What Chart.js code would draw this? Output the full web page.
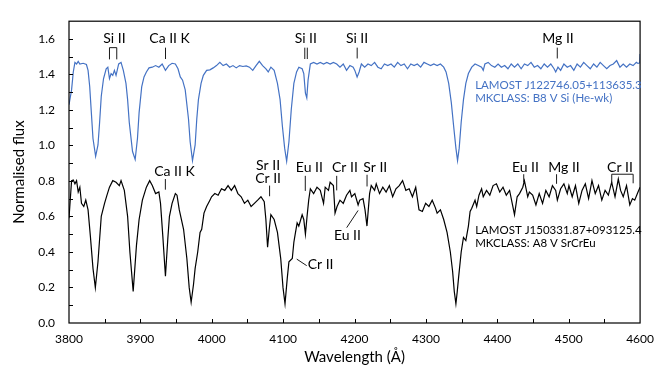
<!DOCTYPE html>
<html>
<head>
<meta charset="utf-8">
<script src="https://cdn.jsdelivr.net/npm/chart.js@4.4.1/dist/chart.umd.min.js"></script>
<style>
  html, body { margin: 0; padding: 0; background: #fff; }
  canvas { display: block; }
</style>
</head>
<body>
<canvas id="spectra" width="663" height="371"></canvas>
<script>
// Wavelength grid (Å) and normalised flux of the B8 V Si (He-wk) star
const blueWave = [3800, 3803.6, 3806.0, 3808.3, 3810.6, 3812.9, 3815.2, 3819.8, 3824.4, 3826.7, 3829.0, 3831.3, 3833.6, 3837.3, 3840.6, 3842.9, 3845.2, 3848.4, 3852.1, 3854.4, 3856.7, 3859.0, 3861.3, 3863.6, 3865.9, 3869.6, 3872.9, 3876.1, 3879.8, 3882.1, 3884.4, 3889.0, 3892.7, 3895.9, 3898.2, 3901.9, 3905.1, 3908.4, 3912.1, 3916.7, 3921.3, 3925.9, 3930.5, 3935.1, 3939.7, 3944.4, 3949.0, 3952.7, 3955.9, 3959.1, 3962.8, 3967.4, 3969.7, 3973.0, 3976.7, 3979.0, 3981.3, 3985.0, 3988.2, 3992.8, 3997.4, 4002.0, 4006.6, 4011.3, 4015.9, 4020.5, 4025.1, 4029.7, 4034.3, 4038.9, 4043.6, 4048.2, 4052.8, 4057.4, 4062.0, 4066.6, 4071.2, 4075.9, 4079.1, 4082.8, 4087.4, 4092.0, 4095.7, 4098.9, 4102.1, 4104.9, 4108.1, 4111.4, 4115.0, 4118.8, 4122.0, 4126.6, 4128.9, 4131.2, 4133.1, 4134.9, 4138.1, 4142.7, 4147.4, 4152.0, 4156.6, 4161.2, 4165.8, 4170.4, 4175.0, 4179.6, 4184.2, 4188.8, 4193.5, 4198.1, 4200.4, 4203.6, 4206.4, 4209.6, 4214.2, 4218.8, 4223.4, 4228.1, 4232.7, 4237.3, 4241.9, 4246.5, 4251.1, 4255.7, 4260.4, 4265.0, 4269.6, 4274.2, 4278.8, 4283.4, 4288.0, 4292.6, 4297.3, 4301.9, 4306.5, 4311.1, 4315.7, 4320.3, 4324.9, 4328.2, 4331.9, 4335.6, 4338.8, 4342.0, 4344.3, 4346.6, 4349.4, 4352.6, 4355.9, 4359.5, 4364.2, 4368.8, 4373.4, 4378.0, 4380.3, 4382.6, 4387.2, 4391.8, 4396.5, 4401.1, 4405.7, 4410.3, 4414.9, 4419.5, 4424.1, 4428.7, 4433.4, 4438.0, 4442.6, 4447.2, 4451.8, 4456.4, 4461.0, 4465.7, 4470.3, 4474.9, 4479.5, 4481.8, 4485.0, 4488.7, 4493.3, 4498.0, 4502.6, 4507.2, 4511.8, 4516.4, 4521.0, 4525.6, 4530.2, 4534.9, 4539.5, 4544.1, 4548.7, 4553.3, 4557.9, 4562.5, 4567.2, 4571.8, 4576.4, 4581.0, 4585.6, 4590.2, 4594.8, 4597.1, 4599.6, 4600];
const blueFlux = [1.230, 1.313, 1.414, 1.468, 1.459, 1.474, 1.459, 1.463, 1.456, 1.423, 1.332, 1.185, 1.039, 0.939, 1.003, 1.131, 1.277, 1.377, 1.432, 1.441, 1.377, 1.405, 1.395, 1.423, 1.395, 1.459, 1.468, 1.423, 1.350, 1.258, 1.131, 0.966, 0.921, 1.039, 1.185, 1.332, 1.386, 1.414, 1.437, 1.441, 1.450, 1.441, 1.459, 1.423, 1.450, 1.463, 1.459, 1.432, 1.386, 1.368, 1.313, 1.149, 1.021, 0.915, 1.003, 1.149, 1.258, 1.350, 1.395, 1.423, 1.426, 1.437, 1.450, 1.468, 1.450, 1.459, 1.441, 1.450, 1.437, 1.450, 1.445, 1.448, 1.441, 1.423, 1.450, 1.474, 1.450, 1.432, 1.414, 1.441, 1.423, 1.350, 1.258, 1.110, 0.985, 0.911, 1.021, 1.204, 1.350, 1.414, 1.441, 1.432, 1.405, 1.295, 1.268, 1.368, 1.459, 1.468, 1.459, 1.468, 1.459, 1.468, 1.459, 1.468, 1.459, 1.441, 1.459, 1.423, 1.450, 1.441, 1.423, 1.386, 1.414, 1.459, 1.441, 1.459, 1.450, 1.468, 1.441, 1.432, 1.459, 1.450, 1.459, 1.441, 1.468, 1.450, 1.459, 1.432, 1.459, 1.450, 1.459, 1.441, 1.468, 1.459, 1.450, 1.459, 1.450, 1.459, 1.441, 1.414, 1.350, 1.240, 1.110, 0.985, 0.915, 0.985, 1.131, 1.258, 1.350, 1.405, 1.441, 1.459, 1.450, 1.441, 1.423, 1.459, 1.468, 1.450, 1.441, 1.459, 1.441, 1.450, 1.432, 1.459, 1.441, 1.459, 1.432, 1.459, 1.450, 1.468, 1.441, 1.450, 1.432, 1.459, 1.441, 1.459, 1.432, 1.414, 1.441, 1.423, 1.459, 1.441, 1.450, 1.423, 1.459, 1.441, 1.468, 1.450, 1.432, 1.459, 1.441, 1.468, 1.450, 1.432, 1.450, 1.459, 1.478, 1.441, 1.459, 1.441, 1.459, 1.450, 1.468, 1.462, 1.465, 1.515];

// Wavelength grid (Å) and normalised flux of the A8 V SrCrEu star
const blackWave = [3800, 3803.6, 3806.0, 3808.3, 3810.6, 3812.9, 3815.2, 3817.5, 3820.7, 3823.5, 3826.7, 3829.9, 3833.6, 3836.9, 3840.6, 3845.2, 3849.8, 3853.2, 3856.7, 3861.3, 3865.9, 3870.5, 3872.9, 3877.5, 3882.1, 3885.3, 3889.9, 3894.5, 3898.2, 3902.8, 3908.4, 3913.0, 3916.7, 3921.3, 3925.9, 3928.2, 3931.4, 3935.1, 3938.4, 3940.7, 3944.4, 3949.0, 3951.3, 3954.5, 3960.5, 3965.1, 3968.4, 3971.1, 3974.4, 3976.7, 3980.3, 3983.6, 3985.9, 3989.1, 3992.8, 3997.4, 3999.7, 4004.3, 4008.9, 4013.6, 4018.2, 4022.8, 4027.4, 4032.0, 4036.6, 4041.2, 4045.8, 4050.5, 4055.1, 4059.7, 4064.3, 4068.9, 4073.5, 4075.8, 4078.2, 4080.5, 4082.8, 4087.4, 4092.0, 4096.6, 4099.8, 4102.6, 4105.8, 4108.1, 4112.8, 4115.0, 4117.3, 4119.6, 4121.9, 4126.6, 4128.9, 4131.2, 4133.5, 4135.8, 4138.1, 4142.7, 4147.4, 4152.0, 4156.6, 4158.9, 4163.5, 4165.8, 4170.4, 4172.7, 4175.5, 4179.6, 4184.2, 4188.8, 4193.5, 4195.8, 4200.4, 4205.0, 4207.3, 4211.9, 4214.7, 4217.4, 4221.1, 4223.4, 4228.1, 4230.4, 4235.0, 4239.6, 4244.2, 4248.8, 4253.4, 4258.0, 4262.7, 4267.3, 4271.9, 4276.5, 4281.1, 4285.7, 4290.3, 4295.0, 4299.6, 4304.2, 4308.8, 4313.4, 4315.7, 4320.3, 4324.9, 4329.6, 4334.2, 4337.4, 4339.7, 4342.0, 4343.9, 4345.7, 4349.4, 4352.6, 4355.9, 4359.5, 4361.9, 4364.2, 4368.8, 4371.1, 4374.3, 4378.0, 4380.3, 4384.9, 4389.5, 4394.1, 4398.8, 4403.4, 4408.0, 4412.6, 4417.2, 4421.8, 4424.1, 4427.8, 4431.1, 4435.7, 4438.0, 4442.6, 4444.9, 4449.5, 4454.1, 4458.7, 4463.4, 4468.0, 4472.6, 4477.2, 4481.8, 4484.1, 4488.7, 4493.3, 4498.0, 4500.3, 4504.9, 4509.5, 4514.1, 4518.7, 4523.3, 4527.9, 4532.6, 4537.2, 4541.8, 4546.4, 4551.0, 4555.6, 4560.2, 4564.9, 4569.5, 4572.7, 4576.4, 4581.0, 4585.6, 4589.3, 4592.5, 4597.1, 4600];
const blackFlux = [0.590, 0.802, 0.805, 0.784, 0.802, 0.738, 0.765, 0.674, 0.656, 0.692, 0.637, 0.491, 0.308, 0.199, 0.345, 0.601, 0.674, 0.720, 0.765, 0.802, 0.793, 0.774, 0.802, 0.747, 0.601, 0.400, 0.178, 0.437, 0.583, 0.692, 0.765, 0.802, 0.774, 0.729, 0.738, 0.674, 0.491, 0.263, 0.473, 0.601, 0.674, 0.729, 0.720, 0.637, 0.528, 0.363, 0.199, 0.117, 0.217, 0.308, 0.400, 0.510, 0.528, 0.619, 0.656, 0.692, 0.711, 0.729, 0.720, 0.756, 0.747, 0.774, 0.747, 0.774, 0.729, 0.711, 0.674, 0.692, 0.656, 0.674, 0.692, 0.711, 0.683, 0.583, 0.427, 0.528, 0.610, 0.583, 0.510, 0.363, 0.199, 0.108, 0.254, 0.345, 0.363, 0.455, 0.510, 0.564, 0.546, 0.610, 0.583, 0.500, 0.601, 0.692, 0.756, 0.729, 0.765, 0.747, 0.674, 0.765, 0.747, 0.793, 0.774, 0.619, 0.656, 0.692, 0.674, 0.720, 0.747, 0.711, 0.729, 0.665, 0.692, 0.701, 0.637, 0.546, 0.729, 0.774, 0.747, 0.784, 0.729, 0.765, 0.738, 0.774, 0.711, 0.756, 0.774, 0.802, 0.747, 0.756, 0.711, 0.765, 0.637, 0.628, 0.674, 0.656, 0.692, 0.647, 0.619, 0.637, 0.583, 0.510, 0.400, 0.290, 0.178, 0.108, 0.178, 0.254, 0.400, 0.482, 0.464, 0.546, 0.628, 0.647, 0.692, 0.656, 0.720, 0.756, 0.711, 0.747, 0.720, 0.774, 0.784, 0.738, 0.765, 0.720, 0.747, 0.656, 0.610, 0.711, 0.729, 0.765, 0.802, 0.711, 0.738, 0.720, 0.665, 0.729, 0.674, 0.747, 0.711, 0.774, 0.747, 0.692, 0.756, 0.784, 0.729, 0.774, 0.711, 0.774, 0.674, 0.747, 0.784, 0.701, 0.802, 0.729, 0.774, 0.692, 0.747, 0.720, 0.793, 0.711, 0.811, 0.747, 0.711, 0.774, 0.665, 0.701, 0.692, 0.738, 0.765];

// Axis ranges and tick labels
const xRange = [3800, 4600];
const yRange = [0, 1.7];
const xTickValues = [3800, 3900, 4000, 4100, 4200, 4300, 4400, 4500, 4600];
const yTickValues = [0.0, 0.2, 0.4, 0.6, 0.8, 1.0, 1.2, 1.4, 1.6];
const xTickMarks = [3850, 3900, 3950, 4000, 4050, 4100, 4150, 4200, 4250, 4300, 4350, 4400, 4450, 4500, 4550];
const yTickMarks = [0.1, 0.2, 0.3, 0.4, 0.5, 0.6, 0.7, 0.8, 0.9, 1.0, 1.1, 1.2, 1.3, 1.4, 1.5, 1.6];

// Line identifications: text placed in data coordinates (wavelength, flux)
const lineLabels = [
  { text: 'Si II',   x: 3863.7, y: 1.605 },
  { text: 'Ca II K', x: 3940.9, y: 1.605 },
  { text: 'Si II',   x: 4131.7, y: 1.605 },
  { text: 'Si II',   x: 4203.5, y: 1.605 },
  { text: 'Mg II',   x: 4485.0, y: 1.605 },
  { text: 'Ca II K', x: 3947.8, y: 0.856 },
  { text: 'Sr II',   x: 4078.9, y: 0.888 },
  { text: 'Cr II',   x: 4078.9, y: 0.816 },
  { text: 'Eu II',   x: 4136.7, y: 0.875 },
  { text: 'Cr II',   x: 4186.6, y: 0.875 },
  { text: 'Sr II',   x: 4229.0, y: 0.875 },
  { text: 'Eu II',   x: 4190.0, y: 0.492 },
  { text: 'Cr II',   x: 4134.4, y: 0.327, align: 'left' },
  { text: 'Eu II',   x: 4439.4, y: 0.875 },
  { text: 'Mg II',   x: 4493.4, y: 0.875 },
  { text: 'Cr II',   x: 4571.9, y: 0.875 }
];

// Marker strokes under the identifications, as (wavelength, flux) polylines
const lineMarkers = [
  [[3856.7, 1.485], [3856.7, 1.551], [3866.9, 1.551], [3866.9, 1.485]],
  [[3935.2, 1.551], [3935.2, 1.487]],
  [[4130.3, 1.551], [4130.3, 1.487]],
  [[4133.8, 1.551], [4133.8, 1.487]],
  [[4203.7, 1.551], [4203.7, 1.490]],
  [[4484.0, 1.551], [4484.0, 1.490]],
  [[3935.0, 0.811], [3935.0, 0.751]],
  [[4081.0, 0.774], [4081.0, 0.714]],
  [[4131.0, 0.829], [4131.0, 0.744]],
  [[4175.0, 0.829], [4175.0, 0.747]],
  [[4217.5, 0.835], [4217.5, 0.769]],
  [[4189.0, 0.537], [4205.0, 0.634]],
  [[4119.0, 0.360], [4133.0, 0.323]],
  [[4437.0, 0.838], [4437.0, 0.793]],
  [[4483.0, 0.838], [4483.0, 0.784]],
  [[4560.3, 0.787], [4560.3, 0.838], [4590.3, 0.838], [4590.3, 0.787]]
];

// Star designations and classifications
const starNotes = [
  { lines: ['LAMOST J122746.05+113635.3', 'MKCLASS: B8 V Si (He-wk)'], x: 4369.0, y: [1.341, 1.268], color: '#4472C4' },
  { lines: ['LAMOST J150331.87+093125.4', 'MKCLASS: A8 V SrCrEu'], x: 4369.0, y: [0.524, 0.451], color: '#000000' }
];

const FONT = 'Lato, "Open Sans", sans-serif';

const toPoints = (w, f) => w.map((x, i) => ({ x, y: f[i] }));

const frameAndLabels = {
  id: 'frameAndLabels',
  afterDatasetsDraw(chart) {
    const { ctx, chartArea: a, scales: { x, y } } = chart;
    ctx.save();
    // plot-area border
    ctx.strokeStyle = '#000';
    ctx.lineWidth = 1.2;
    ctx.strokeRect(a.left, a.top, a.right - a.left, a.bottom - a.top);
    // inward tick marks
    ctx.lineWidth = 1;
    ctx.beginPath();
    xTickMarks.forEach(v => {
      const px = Math.round(x.getPixelForValue(v)) + 0.5;
      ctx.moveTo(px, a.bottom);
      ctx.lineTo(px, a.bottom - 4);
    });
    yTickMarks.forEach(v => {
      const py = Math.round(y.getPixelForValue(v)) + 0.5;
      ctx.moveTo(a.left, py);
      ctx.lineTo(a.left + 4, py);
    });
    ctx.stroke();

    // identification markers
    ctx.strokeStyle = '#1a1a1a';
    ctx.lineWidth = 1;
    lineMarkers.forEach(poly => {
      ctx.beginPath();
      poly.forEach(([wv, fv], i) => {
        const px = x.getPixelForValue(wv), py = y.getPixelForValue(fv);
        if (i === 0) ctx.moveTo(px, py); else ctx.lineTo(px, py);
      });
      ctx.stroke();
    });

    // identification text
    ctx.fillStyle = '#000';
    ctx.font = '14px ' + FONT;
    ctx.textBaseline = 'middle';
    lineLabels.forEach(l => {
      ctx.textAlign = l.align || 'center';
      ctx.fillText(l.text, x.getPixelForValue(l.x), y.getPixelForValue(l.y));
    });

    // star notes
    ctx.font = '11.5px ' + FONT;
    ctx.textAlign = 'left';
    starNotes.forEach(n => {
      ctx.fillStyle = n.color;
      n.lines.forEach((t, i) => ctx.fillText(t, x.getPixelForValue(n.x), y.getPixelForValue(n.y[i])));
    });

    // axis titles
    ctx.fillStyle = '#000';
    ctx.font = '15px ' + FONT;
    ctx.textAlign = 'center';
    ctx.fillText('Wavelength (Å)', (a.left + a.right) / 2, 357);
    ctx.translate(19, (a.top + a.bottom) / 2);
    ctx.rotate(-Math.PI / 2);
    ctx.fillText('Normalised flux', 0, 0);
    ctx.restore();
  }
};

new Chart(document.getElementById('spectra'), {
  type: 'line',
  data: {
    datasets: [
      { label: 'LAMOST J122746.05+113635.3', data: toPoints(blueWave, blueFlux), borderColor: '#4472C4', borderWidth: 1.2, pointRadius: 0, tension: 0, fill: false },
      { label: 'LAMOST J150331.87+093125.4', data: toPoints(blackWave, blackFlux), borderColor: '#000000', borderWidth: 1.2, pointRadius: 0, tension: 0, fill: false }
    ]
  },
  options: {
    responsive: false,
    animation: false,
    devicePixelRatio: 1,
    layout: { padding: { top: 13, right: 16, left: 0, bottom: 0 } },
    plugins: { legend: { display: false }, tooltip: { enabled: false } },
    scales: {
      x: {
        type: 'linear', min: xRange[0], max: xRange[1],
        grid: { display: false, drawTicks: false },
        border: { display: false },
        ticks: { color: '#000', font: { family: FONT, size: 12 }, padding: 9, maxRotation: 0, callback: v => String(v) },
        afterBuildTicks: s => { s.ticks = xTickValues.map(v => ({ value: v })); },
        afterFit: s => { s.height = 48; }
      },
      y: {
        type: 'linear', min: yRange[0], max: yRange[1],
        grid: { display: false, drawTicks: false },
        border: { display: false },
        ticks: { color: '#000', font: { family: FONT, size: 12 }, padding: 14, callback: v => Number(v).toFixed(1) },
        afterBuildTicks: s => { s.ticks = yTickValues.map(v => ({ value: v })); },
        afterFit: s => { s.width = 69; }
      }
    }
  },
  plugins: [frameAndLabels]
});
</script>
</body>
</html>
